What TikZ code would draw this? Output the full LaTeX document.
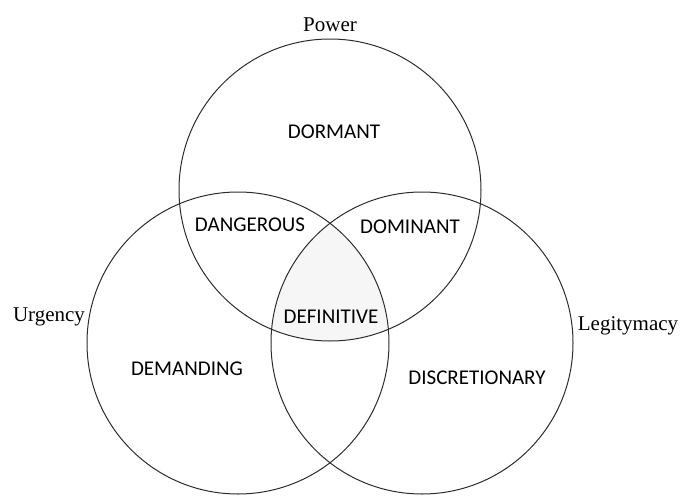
\documentclass[tikz,border=0pt]{standalone}
\usepackage{fontspec}
\usepackage{xcolor}
\usepackage{tikz}
\setmainfont{Liberation Serif}
\newfontfamily\regionfont{Carlito}
\definecolor{ringline}{RGB}{45,45,45}
\definecolor{corefill}{RGB}{246,246,246}
\tikzset{
    ring/.style={circle, draw=ringline, line width=1pt, minimum size=302pt, inner sep=0pt},
    region/.style={text=black, font=\regionfont\fontsize{21}{25}\selectfont, inner sep=1pt},
    attribute/.style={text=black, font=\fontsize{21}{25}\selectfont, inner sep=1pt}
}

\begin{document}
\begin{tikzpicture}[x=1pt, y=-1pt]
    \useasboundingbox (0,0) rectangle (681,496);

    % Circle centres
    \coordinate (pwc) at (330,190);
    \coordinate (urc) at (238,343);
    \coordinate (lgc) at (422,343);

    % Shaded core
    \begin{scope}
        \clip (pwc) circle (151pt);
        \clip (urc) circle (151pt);
        \fill[corefill] (lgc) circle (151pt);
    \end{scope}

    % Circles
    \node[ring] (power) at (pwc) {};
    \node[ring] (urgency) at (urc) {};
    \node[ring] (legit) at (lgc) {};

    % Attribute labels
    \node[attribute] (powerlbl) at (330,25) {Power};
    \node[attribute] (urgencylbl) at (49,317) {Urgency};
    \node[attribute] (legitlbl) at (628,326) {Legitymacy};

    % Regions
    \node[region] (dormant) at (334,132) {DORMANT};
    \node[region] (dangerous) at (250,225) {DANGEROUS};
    \node[region] (dominant) at (410,227) {DOMINANT};
    \node[region] (definitive) at (331,317) {DEFINITIVE};
    \node[region] (demanding) at (187,369) {DEMANDING};
    \node[region] (discretionary) at (477,378) {DISCRETIONARY};
\end{tikzpicture}
\end{document}
